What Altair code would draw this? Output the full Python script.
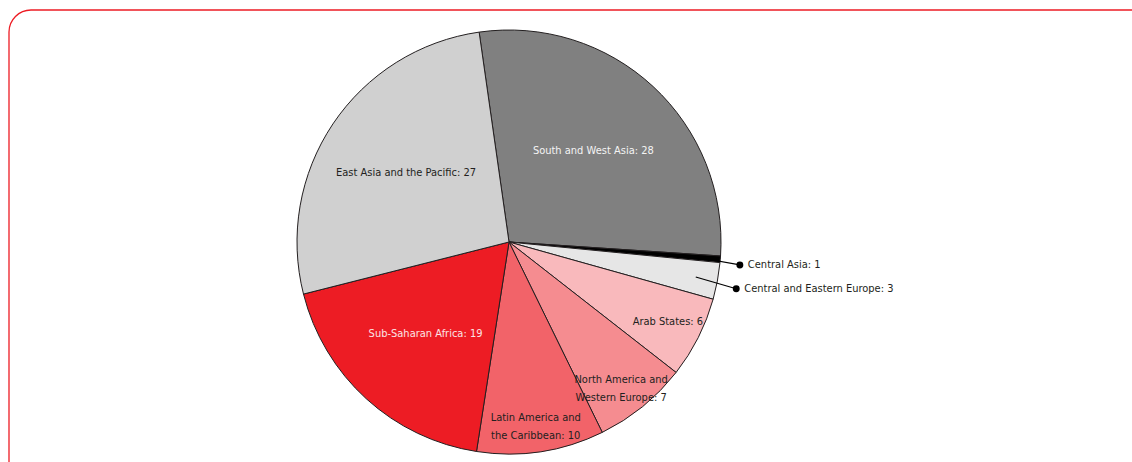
import altair as alt
import numpy as np
import pandas as pd

# ---- data (slice sizes) ----
regions = [
    "South and West Asia",
    "Central Asia",
    "Central and Eastern Europe",
    "Arab States",
    "North America and Western Europe",
    "Latin America and the Caribbean",
    "Sub-Saharan Africa",
    "East Asia and the Pacific",
]
values = [28.3, 0.5, 2.8, 6.2, 7.2, 9.7, 18.6, 26.7]
labels = [
    "South and West Asia: 28",
    "Central Asia: 1",
    "Central and Eastern Europe: 3",
    "Arab States: 6",
    "North America and\nWestern Europe: 7",
    "Latin America and\nthe Caribbean: 10",
    "Sub-Saharan Africa: 19",
    "East Asia and the Pacific: 27",
]
fill_colors = ["#808080", "#000000", "#e6e6e6", "#f9b9bc",
               "#f58c90", "#f26369", "#ed1c24", "#d0d0d0"]
text_colors = ["#f4f4f4", "#231f20", "#231f20", "#231f20",
               "#231f20", "#231f20", "#fbe4e4", "#231f20"]

# ---- layout constants ----
W, H = 1018, 440
PAD = {"left": 0, "top": 22, "right": 114, "bottom": 0}
CX, CY = W / 2, H / 2
R = 212
START_DEG = -8.1
FONT = "Liberation Sans Narrow, DejaVu Sans Condensed, Liberation Sans, sans-serif"
FS = 11
RED = "#ed1c24"

t0 = np.radians(START_DEG)
vals = np.array(values, dtype=float)
total = vals.sum()
mid_frac = (np.cumsum(vals) - vals / 2) / total
mid_ang = t0 + 2 * np.pi * mid_frac

df = pd.DataFrame({
    "region": regions,
    "value": values,
    "label": labels,
    "idx": list(range(len(values))),
    "fill": fill_colors,
    "tcolor": text_colors,
})
df["lab_big"] = np.where(df["value"] >= 15, df["label"], "")
df["lab_small"] = np.where((df["value"] < 15) & (df["value"] > 3.5), df["label"], "")

# callouts for the two thinnest slices (positions derived from slice angles)
out = df[df["value"] <= 3.5].copy()
ang = mid_ang[out.index.values]
ang_dot = ang + np.radians(1.0)
out["x1"] = CX + 190 * np.sin(ang)
out["y1"] = CY - 190 * np.cos(ang)
out["x2"] = CX + 232 * np.sin(ang_dot)
out["y2"] = CY - 232 * np.cos(ang_dot)

base = alt.Chart(df).encode(
    theta=alt.Theta("value:Q", stack=True,
                    scale=alt.Scale(range=[float(t0), float(t0 + 2 * np.pi)])),
    order=alt.Order("idx:Q"),
)

arcs = base.mark_arc(outerRadius=R, stroke="#231f20", strokeWidth=1).encode(
    color=alt.Color("fill:N", scale=None, legend=None)
)

txt_big = base.mark_text(radius=124, font=FONT, fontSize=FS, lineBreak="\n",
                         lineHeight=17.6, align="center", baseline="middle").encode(
    text="lab_big:N", color=alt.Color("tcolor:N", scale=None, legend=None)
)
txt_small = base.mark_text(radius=178, font=FONT, fontSize=FS, lineBreak="\n",
                           lineHeight=17.6, align="center", baseline="middle").encode(
    text="lab_small:N", color=alt.Color("tcolor:N", scale=None, legend=None)
)

oc = alt.Chart(out)
lines = oc.mark_rule(color="#000000", strokeWidth=1.2).encode(
    x=alt.X("x1:Q", scale=None, axis=None), y=alt.Y("y1:Q", scale=None, axis=None),
    x2="x2:Q", y2="y2:Q",
)
dots = oc.mark_point(filled=True, size=48, color="#000000", opacity=1).encode(
    x=alt.X("x2:Q", scale=None, axis=None), y=alt.Y("y2:Q", scale=None, axis=None)
)
out_txt = oc.mark_text(font=FONT, fontSize=FS, align="left", baseline="middle",
                       dx=8, color="#231f20").encode(
    x=alt.X("x2:Q", scale=None, axis=None), y=alt.Y("y2:Q", scale=None, axis=None),
    text="label:N",
)

frame_df = pd.DataFrame({"x": [9], "y": [-12], "x2": [1400], "y2": [800]})
frame = alt.Chart(frame_df).mark_rect(
    fill="#ffffff", fillOpacity=0, stroke=RED, strokeWidth=1.3, cornerRadius=22
).encode(
    x=alt.X("x:Q", scale=None, axis=None), y=alt.Y("y:Q", scale=None, axis=None),
    x2="x2:Q", y2="y2:Q",
)

chart = alt.layer(frame, arcs, txt_big, txt_small, lines, dots, out_txt).properties(
    width=W, height=H, padding=PAD, background="#ffffff",
    autosize=alt.AutoSizeParams(type="none"),
).configure_view(stroke=None)

chart.save("out.html", embed_options={"renderer": "svg", "actions": False})
